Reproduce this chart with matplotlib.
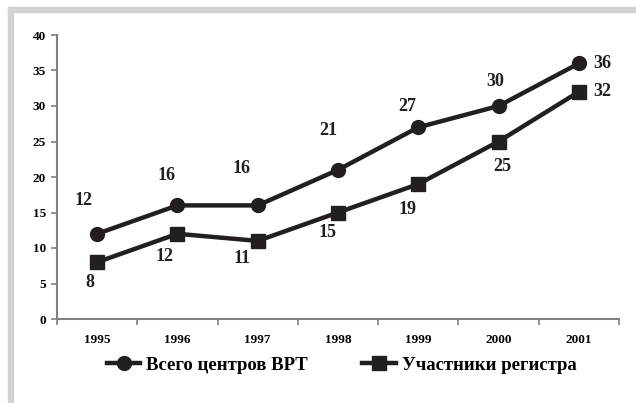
import matplotlib
matplotlib.use("Agg")
import matplotlib.pyplot as plt
from matplotlib.patches import Rectangle
from matplotlib.ticker import FixedLocator

years = ["1995", "1996", "1997", "1998", "1999", "2000", "2001"]
total_centers = [12, 16, 16, 21, 27, 30, 36]
registry_members = [8, 12, 11, 15, 19, 25, 32]
series_names = ["Всего центров ВРТ", "Участники регистра"]

# label offsets in pixels (dx, dy)
total_offsets = [(-14, 33), (-11, 30), (-16, 37), (-10, 39), (-11, 21), (-3, 25), (23, 0)]
member_offsets = [(-7, -20), (-13, -23), (-16, -18), (-10, -20), (-11, -25), (4, -25), (23, 0)]

plt.rcParams["font.family"] = ["Liberation Serif", "DejaVu Serif"]
plt.rcParams["font.weight"] = "bold"

W, H = 636, 403
fig = plt.figure(figsize=(W / 100, H / 100), dpi=100)

# light gray frame on top and left edges
gray = "#d3d3d3"
fig.patches.append(Rectangle((8 / W, 1 - 12 / H), 1 - 8 / W, 5 / H,
                             transform=fig.transFigure, color=gray, zorder=0))
fig.patches.append(Rectangle((8 / W, 0), 5 / W, 1 - 7 / H,
                             transform=fig.transFigure, color=gray, zorder=0))

ax = fig.add_axes([57 / W, 1 - 319 / H, (619 - 57) / W, (319 - 35) / H])
x = list(range(len(years)))

ink = "#231f20"
l1, = ax.plot(x, total_centers, "-o", color=ink, lw=3.2, ms=10, label=series_names[0])
l2, = ax.plot(x, registry_members, "-s", color=ink, lw=3.2, ms=10, label=series_names[1])

for xi, v, off in zip(x, total_centers, total_offsets):
    ax.annotate(str(v), (xi, v), xytext=off, textcoords="offset pixels",
                ha="center", va="center", fontsize=13, fontweight="bold", color=ink)
for xi, v, off in zip(x, registry_members, member_offsets):
    ax.annotate(str(v), (xi, v), xytext=off, textcoords="offset pixels",
                ha="center", va="center", fontsize=13, fontweight="bold", color=ink)

ax.set_xlim(-0.5, len(years) - 0.5)
ax.set_ylim(0, 40)
ax.set_yticks(range(0, 41, 5))
ax.set_xticks(x)
ax.set_xticklabels(years)
ax.xaxis.set_minor_locator(FixedLocator([i - 0.5 for i in range(len(years) + 1)]))
ax.tick_params(axis="x", which="major", length=0, pad=11, labelsize=9.5)
ax.tick_params(axis="x", which="minor", length=4, width=1.2, color="#808080")
ax.tick_params(axis="y", length=4, width=1.2, color="#808080", pad=4, labelsize=9.5)
for lab in ax.get_xticklabels() + ax.get_yticklabels():
    lab.set_fontweight("bold")

for side in ["top", "right"]:
    ax.spines[side].set_visible(False)
for side in ["left", "bottom"]:
    ax.spines[side].set_color("#808080")
    ax.spines[side].set_linewidth(1.5)

fig.legend(handles=[l1, l2], loc="center", bbox_to_anchor=(0.537, 1 - 365 / H),
           ncol=2, frameon=False, prop={"size": 13.5, "weight": "bold"},
           handlelength=1.8, handletextpad=0.3, columnspacing=2.9)

fig.savefig("out.png", dpi=100, facecolor="white")
